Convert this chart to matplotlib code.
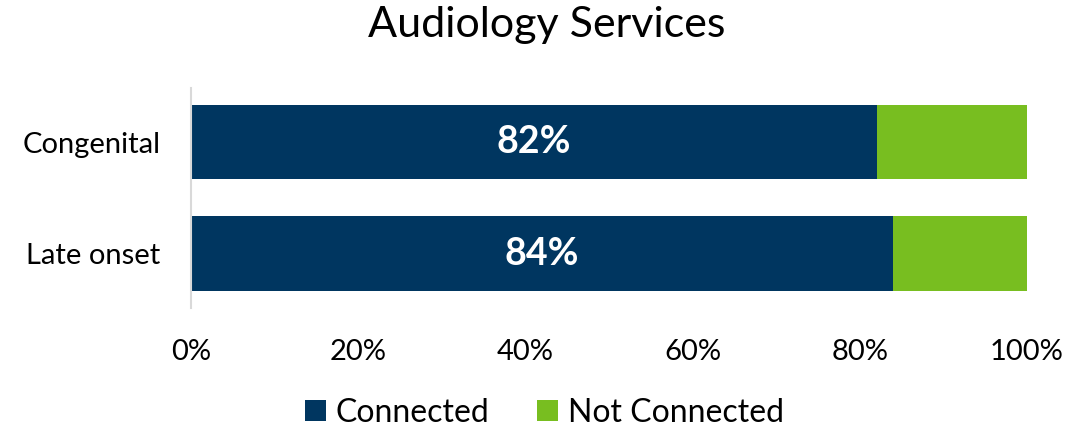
import matplotlib
matplotlib.use("Agg")
import matplotlib.pyplot as plt
from matplotlib.ticker import FuncFormatter

plt.rcParams['font.family'] = ['Lato', 'DejaVu Sans']

categories = ["Congenital", "Late onset"]
connected = [82, 84]
not_connected = [18, 16]
labels = ["82%", "84%"]
xticks = [0, 20, 40, 60, 80, 100]

navy = "#003660"
green = "#78BE20"

fig = plt.figure(figsize=(10.89, 4.32), dpi=100)
ax = fig.add_axes([191/1089, 1-308/432, (1027-191)/1089, 220/432])

y = list(range(len(categories)))
ax.barh(y, connected, height=0.667, color=navy, label="Connected")
ax.barh(y, not_connected, left=connected, height=0.667, color=green, label="Not Connected")

for yi, c, lab in zip(y, connected, labels):
    ax.text(c/2, yi, lab, ha='center', va='center', color='white', fontsize=27, fontweight='bold')

ax.set_xlim(0, 100)
ax.set_ylim(1.49, -0.49)
ax.set_yticks(y)
ax.set_yticklabels(categories, fontsize=21)
ax.set_xticks(xticks)
ax.xaxis.set_major_formatter(FuncFormatter(lambda v, p: f"{int(v)}%"))
ax.tick_params(axis='x', labelsize=21, length=0, pad=22)
ax.tick_params(axis='y', length=0, pad=22)
for s in ['top', 'right', 'bottom']:
    ax.spines[s].set_visible(False)
ax.spines['left'].set_color('#d9d9d9')
ax.spines['left'].set_linewidth(1.5)

fig.text(547/1089, 1-25/432, "Audiology Services", ha='center', va='center', fontsize=31)

fig.legend(loc='center', bbox_to_anchor=(0.5, 1-413/432), ncol=2, frameon=False,
           fontsize=23, handlelength=0.65, handleheight=0.65, handletextpad=0.3, columnspacing=1.5)

fig.savefig("out.png", dpi=100)
